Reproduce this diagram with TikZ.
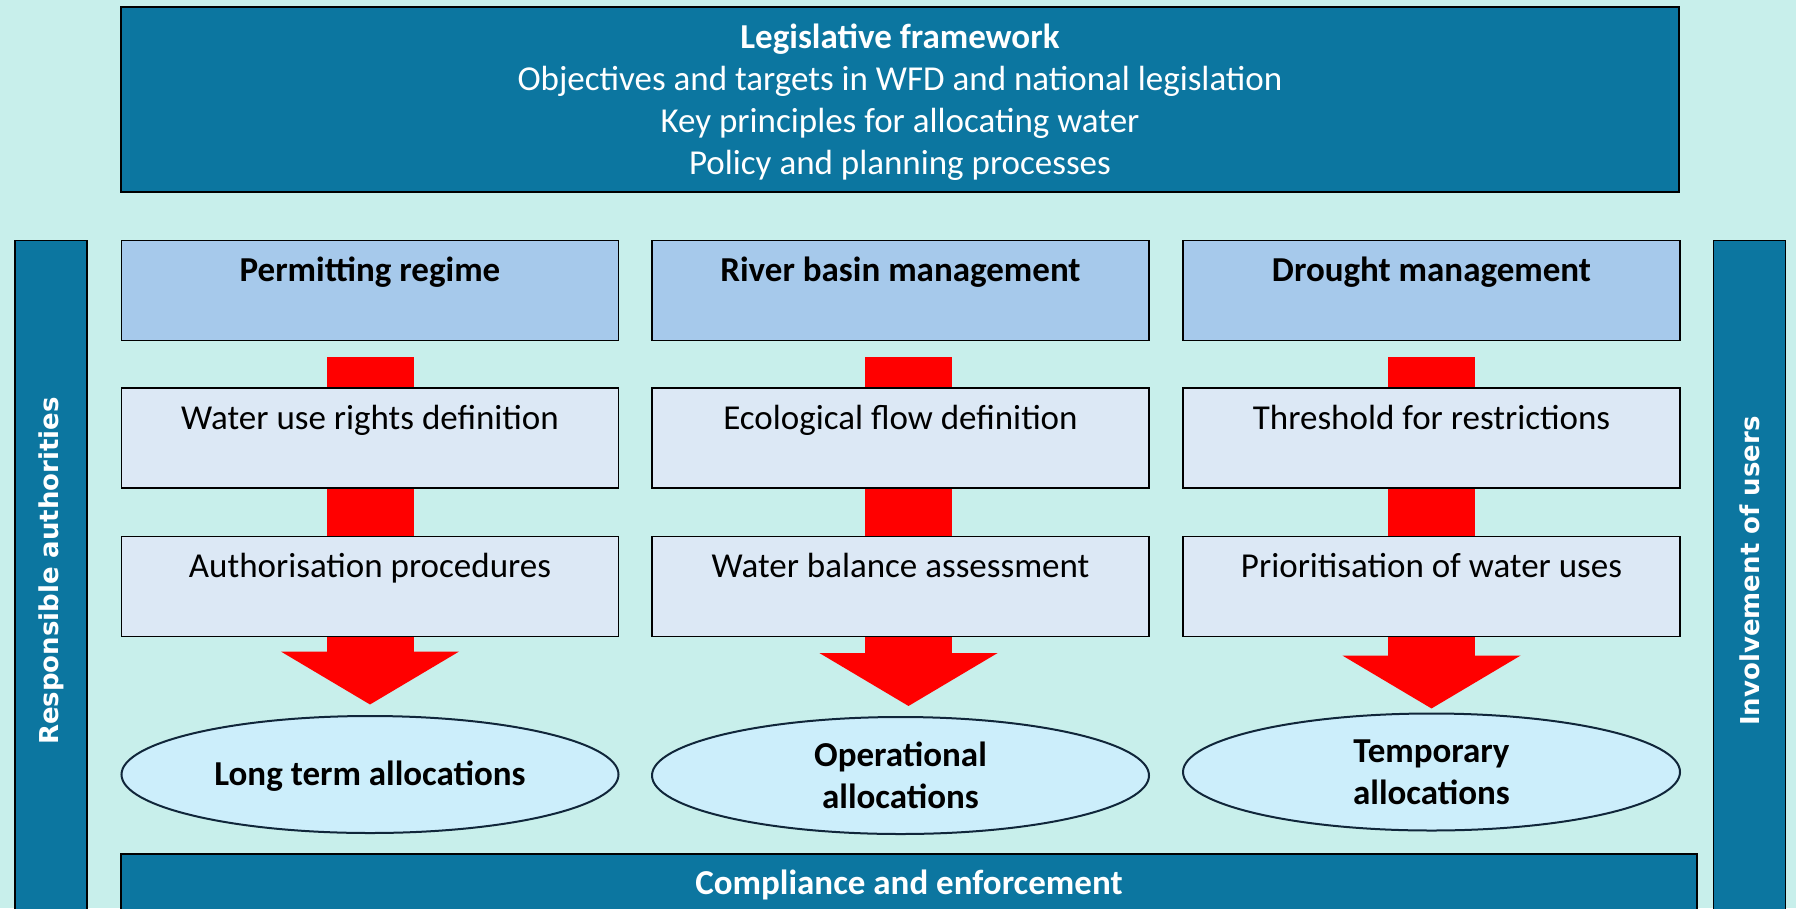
\documentclass[tikz,border=0pt]{standalone}
\usepackage{fontspec}
\setmainfont{Carlito}
\newfontfamily\sidefont{DejaVu Sans}
\usetikzlibrary{shapes.geometric, arrows.meta, backgrounds}

\definecolor{bgcyan}{RGB}{200,239,235}
\definecolor{darkteal}{RGB}{12,118,160}
\definecolor{headblue}{RGB}{166,201,235}
\definecolor{stepblue}{RGB}{220,232,245}
\definecolor{allocblue}{RGB}{204,238,251}
\definecolor{allocline}{RGB}{16,38,58}

\tikzset{
  bigfont/.style={font=\fontsize{35}{42}\selectfont},
  framebox/.style={draw=black, line width=1.5pt, fill=darkteal, text=white, bigfont, align=center, inner sep=0pt},
  colbox/.style={draw=black, line width=1.5pt, bigfont, minimum width=497pt, inner xsep=0pt, inner ysep=0pt, text height=41pt, text depth=59pt},
  headbox/.style={colbox, fill=headblue, font=\fontsize{35}{42}\selectfont\bfseries},
  stepbox/.style={colbox, fill=stepblue},
  alloc/.style={ellipse, draw=allocline, line width=2pt, fill=allocblue, minimum width=497pt, minimum height=117pt, inner sep=0pt, align=center, font=\fontsize{35}{42}\selectfont\bfseries},
  sidebar/.style={draw=black, line width=1.5pt, fill=darkteal, text=white, rotate=90, minimum width=680pt, minimum height=72pt, inner sep=0pt, font=\sidefont\fontsize{26}{30}\selectfont\bfseries},
  bigarrow/.style={red, line width=87pt, -{Triangle[length=53pt, width=176pt]}}
}

\begin{document}
\begin{tikzpicture}[x=1pt,y=1pt,yscale=-1]
\useasboundingbox (0,0) rectangle (1796,908);

% Legislative framework
\node[framebox, minimum width=1558pt, minimum height=185pt, text height=152pt, text depth=3pt] (legal) at (900,99.5) {\textbf{Legislative framework}\\Objectives and targets in WFD and national legislation\\Key principles for allocating water\\Policy and planning processes};

% Side bars
\node[sidebar] (auth) at (51,580.5) {\hspace*{19pt}Responsible authorities};
\node[sidebar] (users) at (1749.5,580.5) {\hspace*{19pt}Involvement of users};

% Column heads
\node[headbox] (head1) at (370,290.5) {Permitting regime};
\node[headbox] (head2) at (900.5,290.5) {River basin management};
\node[headbox] (head3) at (1431.5,290.5) {Drought management};

% Text Node
\node[stepbox] (def1) at (370,438) {Water use rights definition};
\node[stepbox] (def2) at (900.5,438) {Ecological flow definition};
\node[stepbox] (def3) at (1431.5,438) {Threshold for restrictions};

% Text Node
\node[stepbox] (proc1) at (370,586.5) {Authorisation procedures};
\node[stepbox] (proc2) at (900.5,586.5) {Water balance assessment};
\node[stepbox] (proc3) at (1431.5,586.5) {Prioritisation of water uses};

% Allocations
\node[alloc, text height=26pt, text depth=4pt] (alloc1) at (370,774.5) {Long term allocations};
\node[alloc] (alloc2) at (900.5,775.5) {Operational\\allocations};
\node[alloc] (alloc3) at (1431.5,772) {Temporary\\allocations};

% Compliance bar
\node[framebox, minimum width=1576pt, minimum height=58pt, text height=26pt, text depth=4pt] (comply) at (909,883) {\textbf{Compliance and enforcement}};

\begin{scope}[on background layer]
\fill[bgcyan] (0,0) rectangle (1796,908);
% Red arrows
\draw[bigarrow, shorten <=16pt, shorten >=10.5pt] (head1.south) -- (alloc1.north);
\draw[bigarrow, transform canvas={xshift=8pt}, shorten <=16pt, shorten >=10pt] (head2.south) -- (alloc2.north);
\draw[bigarrow, shorten <=16pt, shorten >=4pt] (head3.south) -- (alloc3.north);
\end{scope}

\end{tikzpicture}
\end{document}
